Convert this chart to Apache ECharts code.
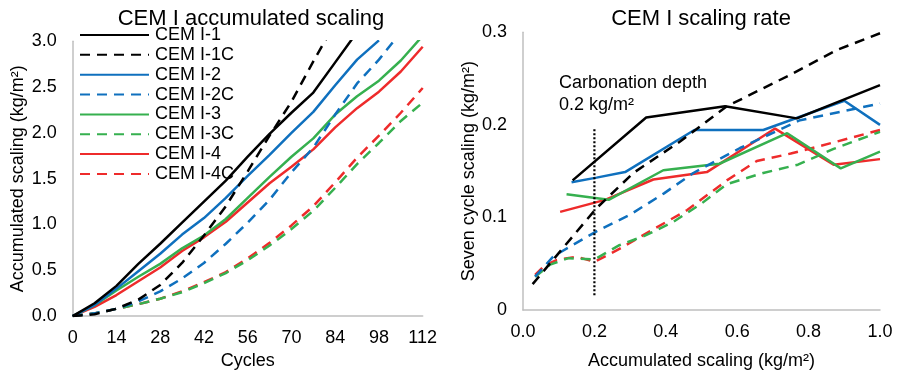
<!DOCTYPE html>
<html>
<head>
<meta charset="utf-8">
<script src="https://cdn.jsdelivr.net/npm/echarts@6/dist/echarts.min.js"></script>
<style>
html,body{margin:0;padding:0;background:#fff;}
#c{width:898px;height:375px;}
</style>
</head>
<body>
<div id="c"></div>
<script>
// ---------- Left chart: accumulated scaling vs cycles ----------
const cycles = [0, 7, 14, 21, 28, 35, 42, 49, 56, 63, 70, 77, 84, 91, 98, 105, 112];
const cycleTicks = [0, 14, 28, 42, 56, 70, 84, 98, 112];
const accTicks = [0.0, 0.5, 1.0, 1.5, 2.0, 2.5, 3.0];

const acc_1  = [0, 0.14, 0.33, 0.57, 0.79, 1.02, 1.25, 1.48, 1.74, 1.99, 2.22, 2.44, 2.77, 3.10];
const acc_1C = [0, 0.02, 0.08, 0.18, 0.34, 0.58, 0.88, 1.20, 1.58, 1.97, 2.34, 2.78, 3.20];
const acc_2  = [0, 0.12, 0.30, 0.49, 0.68, 0.89, 1.07, 1.29, 1.53, 1.76, 2.00, 2.23, 2.52, 2.80, 3.01];
const acc_2C = [0, 0.03, 0.08, 0.16, 0.27, 0.41, 0.58, 0.79, 1.02, 1.27, 1.57, 1.84, 2.20, 2.54, 2.80, 3.10];
const acc_3  = [0, 0.12, 0.28, 0.43, 0.57, 0.74, 0.88, 1.06, 1.29, 1.52, 1.74, 1.94, 2.20, 2.40, 2.57, 2.79, 3.06];
const acc_3C = [0, 0.03, 0.08, 0.13, 0.19, 0.26, 0.36, 0.47, 0.61, 0.77, 0.95, 1.15, 1.40, 1.66, 1.89, 2.13, 2.33];
const acc_4  = [0, 0.10, 0.23, 0.38, 0.53, 0.71, 0.86, 1.03, 1.24, 1.45, 1.63, 1.82, 2.06, 2.27, 2.45, 2.67, 2.94];
const acc_4C = [0, 0.03, 0.08, 0.13, 0.19, 0.27, 0.37, 0.48, 0.63, 0.80, 0.99, 1.20, 1.46, 1.73, 1.97, 2.22, 2.49];

// ---------- Right chart: seven cycle scaling vs accumulated scaling ----------
const rate_1_x  = [0.139, 0.345, 0.566, 0.767, 1.0];
const rate_1_y  = [0.140, 0.208, 0.220, 0.207, 0.243];
const rate_1C_x = [0.027, 0.206, 0.309, 0.44, 0.571, 0.748, 0.88, 1.0];
const rate_1C_y = [0.028, 0.110, 0.148, 0.182, 0.220, 0.254, 0.281, 0.299];
const rate_2_x  = [0.136, 0.206, 0.286, 0.48, 0.673, 0.90, 1.0];
const rate_2_y  = [0.138, 0.143, 0.149, 0.1945, 0.1945, 0.226, 0.200];
const rate_2C_x = [0.034, 0.085, 0.206, 0.30, 0.395, 0.477, 0.608, 0.776, 1.0];
const rate_2C_y = [0.036, 0.058, 0.085, 0.103, 0.126, 0.148, 0.175, 0.205, 0.223];
const rate_3_x  = [0.122, 0.24, 0.393, 0.55, 0.74, 0.89, 1.0];
const rate_3_y  = [0.125, 0.119, 0.151, 0.158, 0.191, 0.153, 0.171];
const rate_3C_x = [0.034, 0.076, 0.127, 0.2, 0.27, 0.34, 0.42, 0.50, 0.571, 0.673, 0.77, 0.87, 1.0];
const rate_3C_y = [0.036, 0.049, 0.056, 0.0545, 0.070, 0.080, 0.095, 0.115, 0.136, 0.148, 0.157, 0.174, 0.1925];
const rate_4_x  = [0.104, 0.23, 0.365, 0.515, 0.706, 0.87, 1.0];
const rate_4_y  = [0.106, 0.119, 0.141, 0.149, 0.196, 0.157, 0.163];
const rate_4C_x = [0.034, 0.06, 0.094, 0.15, 0.2, 0.27, 0.36, 0.46, 0.571, 0.655, 0.75, 0.87, 1.0];
const rate_4C_y = [0.038, 0.048, 0.054, 0.0576, 0.052, 0.066, 0.086, 0.108, 0.140, 0.161, 0.169, 0.181, 0.1945];

const carbDepth_x = [0.2, 0.2];
const carbDepth_y = [0.016, 0.196];

const names = ['CEM I-1', 'CEM I-1C', 'CEM I-2', 'CEM I-2C', 'CEM I-3', 'CEM I-3C', 'CEM I-4', 'CEM I-4C'];
const colors = ['#000000', '#000000', '#0F70BE', '#0F70BE', '#36B04F', '#36B04F', '#EE2B2B', '#EE2B2B'];
const dashed = [false, true, false, true, false, true, false, true];

const accData = [acc_1, acc_1C, acc_2, acc_2C, acc_3, acc_3C, acc_4, acc_4C];
const rateX = [rate_1_x, rate_1C_x, rate_2_x, rate_2C_x, rate_3_x, rate_3C_x, rate_4_x, rate_4C_x];
const rateY = [rate_1_y, rate_1C_y, rate_2_y, rate_2C_y, rate_3_y, rate_3C_y, rate_4_y, rate_4C_y];

const FONT = '"Liberation Sans", Arial, sans-serif';
const pair = (xs, ys) => ys.map((v, i) => [xs[i], v]);

const series = [];
names.forEach((n, i) => {
  const ls = { color: colors[i], width: 2.5, type: dashed[i] ? [10, 7] : 'solid', cap: 'butt' };
  series.push({
    name: n, type: 'line', xAxisIndex: 0, yAxisIndex: 0,
    data: pair(cycles, accData[i]),
    symbol: 'none', showSymbol: false, smooth: false, clip: true,
    itemStyle: { color: colors[i] }, lineStyle: ls, z: 10 - i
  });
});
names.forEach((n, i) => {
  const ls = { color: colors[i], width: 2.5, type: dashed[i] ? [10, 7] : 'solid', cap: 'butt' };
  series.push({
    name: n, type: 'line', xAxisIndex: 1, yAxisIndex: 1,
    data: pair(rateX[i], rateY[i]),
    symbol: 'none', showSymbol: false, clip: true,
    itemStyle: { color: colors[i] }, lineStyle: ls, z: 10 - i
  });
});
series.push({
  name: 'carb', type: 'line', xAxisIndex: 1, yAxisIndex: 1,
  data: pair(carbDepth_x, carbDepth_y), symbol: 'none',
  lineStyle: { color: '#000', width: 2.2, type: [2, 2] }, z: 20
});

const axisLine = { show: true, lineStyle: { color: '#BFBFBF', width: 1.5 } };
const labelStyle = { color: '#000', fontSize: 18, fontFamily: FONT };
const nameStyle = { color: '#000', fontSize: 18, fontFamily: FONT };

const option = {
  animation: false,
  backgroundColor: '#fff',
  textStyle: { fontFamily: FONT },
  title: [
    { text: 'CEM I accumulated scaling', left: 246, top: 3, textAlign: 'center',
      textStyle: { fontSize: 22, fontWeight: 'normal', color: '#000', fontFamily: FONT } },
    { text: 'CEM I scaling rate', left: 696, top: 3, textAlign: 'center',
      textStyle: { fontSize: 22, fontWeight: 'normal', color: '#000', fontFamily: FONT } }
  ],
  legend: {
    data: names, orient: 'vertical', left: 79, top: 26, padding: 0,
    itemWidth: 69, itemHeight: 10, itemGap: 1.85,
    itemStyle: { color: 'rgba(0,0,0,0)', borderWidth: 0, opacity: 0 },
    textStyle: { color: '#000', fontSize: 18, fontFamily: FONT, lineHeight: 18, padding: [0, 0, 0, 1] },
    selectedMode: false
  },
  grid: [
    { left: 72.7, right: 475.3, top: 41.3, bottom: 57.7 },
    { left: 523, right: 18, top: 32.3, bottom: 65 }
  ],
  xAxis: [
    { type: 'value', gridIndex: 0, min: cycleTicks[0], max: cycleTicks[cycleTicks.length - 1], interval: 14,
      axisLine, axisTick: { show: false }, splitLine: { show: false },
      axisLabel: Object.assign({ margin: 13 }, labelStyle),
      name: 'Cycles', nameLocation: 'middle', nameGap: 35, nameTextStyle: nameStyle },
    { type: 'value', gridIndex: 1, min: 0, max: 1, interval: 0.2,
      axisLine, axisTick: { show: false }, splitLine: { show: false },
      axisLabel: Object.assign({ margin: 13, formatter: v => v.toFixed(1) }, labelStyle),
      name: 'Accumulated scaling (kg/m²)', nameLocation: 'middle', nameGap: 42, nameTextStyle: nameStyle }
  ],
  yAxis: [
    { type: 'value', gridIndex: 0, min: accTicks[0], max: accTicks[accTicks.length - 1], interval: 0.5,
      axisLine, axisTick: { show: false }, splitLine: { show: false },
      axisLabel: Object.assign({ margin: 16, formatter: v => v.toFixed(1) }, labelStyle),
      name: 'Accumulated scaling (kg/m²)', nameLocation: 'middle', nameGap: 46, nameTextStyle: nameStyle },
    { type: 'value', gridIndex: 1, min: 0, max: 0.3, interval: 0.1,
      axisLine, axisTick: { show: false }, splitLine: { show: false },
      axisLabel: Object.assign({ margin: 16, formatter: v => v === 0 ? '0' : v.toFixed(1) }, labelStyle),
      name: 'Seven cycle scaling (kg/m²)', nameLocation: 'middle', nameGap: 43, nameTextStyle: nameStyle }
  ],
  graphic: [
    { type: 'text', left: 559, top: 72, z: 100,
      style: { text: 'Carbonation depth\n0.2 kg/m²', font: '18px ' + FONT, fill: '#000', lineHeight: 22 } }
  ],
  series
};

const chart = echarts.init(document.getElementById('c'), null, { renderer: 'canvas' });
chart.setOption(option);
</script>
</body>
</html>
